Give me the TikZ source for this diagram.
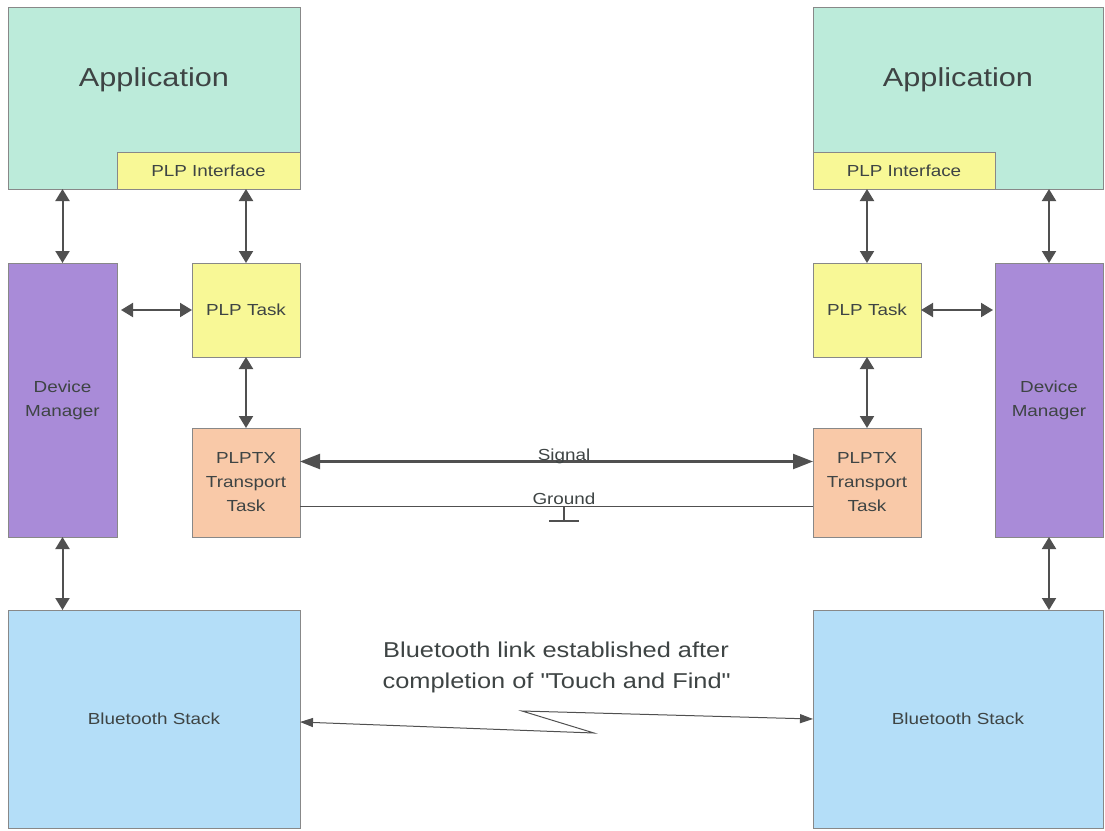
\documentclass[tikz,border=0pt]{standalone}
\usepackage{fontspec}
\setmainfont{Liberation Sans}[FakeStretch=1.18]
\usetikzlibrary{positioning, arrows.meta, calc}

\definecolor{appcol}{HTML}{BCEBDA}
\definecolor{plpcol}{HTML}{F8F896}
\definecolor{dmcol}{HTML}{A98BD8}
\definecolor{txcol}{HTML}{F9C9A8}
\definecolor{btcol}{HTML}{B4DEF8}
\definecolor{edgecol}{HTML}{888888}
\definecolor{txtcol}{HTML}{3E4444}
\definecolor{arrcol}{HTML}{505050}

\begin{document}
\begin{tikzpicture}[x=1pt, y=-1pt,
        box/.style = {draw=edgecol, line width=0.8pt, anchor=north west, inner sep=0pt, outer sep=0pt,
                      text=txtcol, align=center, font=\fontsize{16}{24}\selectfont},
        app/.style = {box, fill=appcol, minimum width=#1, minimum height=182pt},
        plp/.style = {box, fill=plpcol, minimum width=108pt, minimum height=94pt},
        intf/.style = {box, fill=plpcol, minimum width=#1, minimum height=37pt},
        DM/.style = {box, fill=dmcol, minimum width=#1, minimum height=274pt},
        TX/.style = {box, fill=txcol, minimum width=108pt, minimum height=109pt},
        BT/.style = {box, fill=btcol, minimum width=#1, minimum height=218pt},
        arrow/.style = {{Triangle[length=12pt, width=14pt]}-{Triangle[length=12pt, width=14pt]}, line width=2pt, arrcol},
        sig/.style = {{Triangle[length=20pt, width=15pt]}-{Triangle[length=20pt, width=15pt]}, line width=2.2pt, arrcol},
        link/.style = {{Triangle[length=13pt, width=9pt]}-{Triangle[length=13pt, width=9pt]}, line width=1pt, arrcol},
        lbl/.style = {text=txtcol, inner sep=0pt, font=\fontsize{16}{24}\selectfont}
    ]
        \useasboundingbox (0,0) rectangle (1105,830);

        \node[app=292pt, label={[yshift=18pt, text=txtcol, font=\fontsize{26}{30}\selectfont]center:Application}] (appL) at (8,7) {};
        \node[intf=183pt] (ifL) at (117,152) {PLP Interface};
        \node[DM=109pt] (dmL) at (8,263) {Device\\Manager};
        \node[plp] (taskL) at (192,263) {PLP Task};
        \node[TX] (txL) at (192,428) {PLPTX\\Transport\\Task};
        \node[BT=292pt] (btL) at (8,610) {Bluetooth Stack};

        \node[app=290pt, label={[yshift=18pt, text=txtcol, font=\fontsize{26}{30}\selectfont]center:Application}] (appR) at (813,7) {};
        \node[intf=182pt] (ifR) at (813,152) {PLP Interface};
        \node[DM=108pt] (dmR) at (995,263) {Device\\Manager};
        \node[plp] (taskR) at (813,263) {PLP Task};
        \node[TX] (txR) at (813,428) {PLPTX\\Transport\\Task};
        \node[BT=290pt] (btR) at (813,610) {Bluetooth Stack};

        \draw[arrow] (dmL.north |- appL.south) -- (dmL.north);
        \draw[arrow] (taskL.north |- ifL.south) -- (taskL.north);
        \draw[arrow, shorten <=4pt] (dmL.east |- taskL.west) -- (taskL.west);
        \draw[arrow] (taskL) -- (txL);
        \draw[arrow] (dmL.south) -- (dmL.south |- btL.north);

        \draw[arrow] (dmR.north |- appR.south) -- (dmR.north);
        \draw[arrow] (taskR.north |- ifR.south) -- (taskR.north);
        \draw[arrow, shorten >=2pt] (taskR.east) -- (dmR.west |- taskR.east);
        \draw[arrow] (taskR) -- (txR);
        \draw[arrow] (dmR.south) -- (dmR.south |- btR.north);

        \draw[sig] ([yshift=21pt]txL.east) -- ([yshift=21pt]txR.west);
        \node[lbl, anchor=base] (signal) at (564,460) {Signal};
        \draw[line width=1.5pt, arrcol] ([yshift=-24pt]txL.east) -- ([yshift=-24pt]txR.west);
        \node[lbl, anchor=base] (ground) at (564,504) {Ground};
        \coordinate (gnd) at (564,507);
        \draw[line width=1.5pt, arrcol] (gnd) -- ++(0,14) ++(-15,0) -- ++(30,0);

        \node[text=txtcol, align=center, font=\fontsize{21.5}{31}\selectfont] (note) at (556,667)
            {Bluetooth link established after\\completion of \textquotedbl Touch and Find\textquotedbl};
        \coordinate (zigA) at (594,733);
        \coordinate (zigB) at (522,711);
        \draw[link] ([yshift=-3pt]btL.east) -- (zigA) -- (zigB) -- (btR.west);

\end{tikzpicture}
\end{document}
